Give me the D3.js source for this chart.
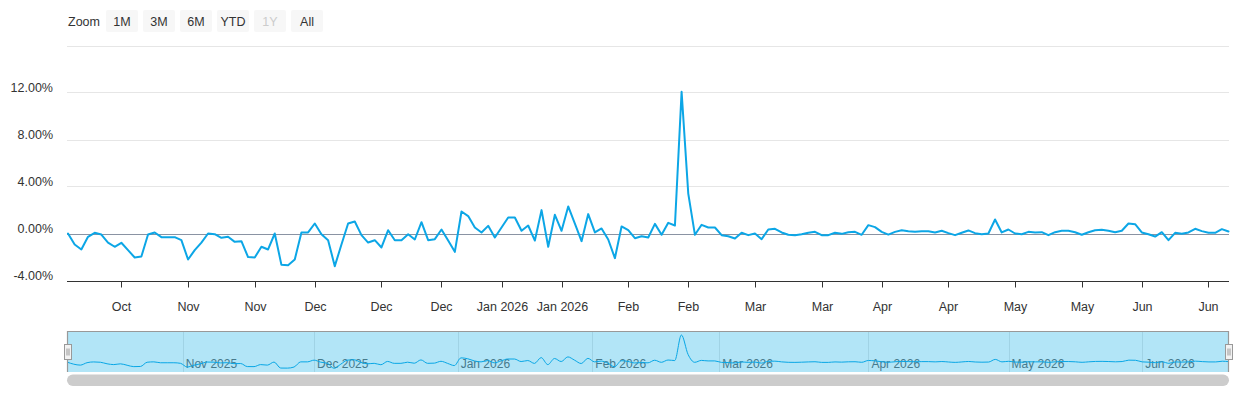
<!DOCTYPE html>
<html>
<head>
<meta charset="utf-8">
<script src="https://cdn.jsdelivr.net/npm/d3@7"></script>
<style>
  html, body { margin: 0; padding: 0; background: #fff; }
  svg { display: block; font-family: "Liberation Sans", Arial, Helvetica, sans-serif; }
</style>
</head>
<body>
<svg id="chart" width="1240" height="400"></svg>
<script>
// ---------------- DATA ----------------
const startDate = "2025-10-08";
const endDate = "2026-06-18";
const holidays = ["2025-11-27", "2025-12-25", "2026-01-01", "2026-01-19", "2026-02-16", "2026-04-03", "2026-05-25"];

// daily change (%) per trading day
const values = [
  0, -0.94, -1.36, -0.28, 0.06, -0.09, -0.77, -1.13, -0.79, -1.42,
  -2.04, -1.96, -0.09, 0.09, -0.31, -0.31, -0.31, -0.57, -2.21, -1.42,
  -0.77, 0, -0.06, -0.37, -0.28, -0.71, -0.65, -2.01, -2.04, -1.13,
  -1.36, 0, -2.67, -2.70, -2.21, 0.09, 0.09, 0.85, -0.06, -0.57,
  -2.78, -0.94, 0.85, 1.02,
  -0.14, -0.77, -0.57, -1.19, 0.28, -0.57, -0.57, -0.06, -0.51, 0.96,
  -0.57, -0.48, 0.34, -0.60, -1.56, 1.87, 1.48, 0.51, 0.09, 0.65,
  -0.34, 0.51, 1.36, 1.36, 0.23, 0.68, -0.60, 1.99, -1.13, 1.59,
  0.23, 2.30, 0.85, -0.65, 1.65, 0.09, 0.43, -0.51, -2.10, 0.60,
  0.28, -0.40, -0.23, -0.34,
  0.82, -0.11, 0.91, 0.68, 12.06, 3.40, -0.11, 0.74, 0.51, 0.51,
  -0.14, -0.23, -0.43, 0.06, -0.14, 0,
  -0.48, 0.34, 0.40, 0.09, -0.11, -0.14, -0.06, 0.06, 0.14, -0.14,
  -0.14, 0.06, -0.03, 0.11, 0.14, -0.11, 0.71, 0.54, 0.14, -0.09,
  0.14, 0.28, 0.20, 0.14, 0.20, 0.20, 0.09, 0.23, 0.03, -0.14,
  0.06, 0.26, 0.03, -0.06, 0, 1.19,
  0.09, 0.34, 0, -0.06, 0.14, 0.09, 0.11, -0.14, 0.11, 0.23,
  0.23, 0.11, -0.11, 0.11, 0.28, 0.31, 0.23, 0.11, 0.23, 0.85,
  0.79, 0.09, -0.06, -0.26, 0.11, -0.57, 0.06, -0.03, 0.09, 0.40,
  0.20, 0.06, 0.06, 0.37, 0.17
];

const tickDates = ["2025-10-20", "2025-11-03", "2025-11-17", "2025-12-01", "2025-12-15", "2025-12-29",
  "2026-01-12", "2026-01-26", "2026-02-09", "2026-02-23", "2026-03-09", "2026-03-23",
  "2026-04-06", "2026-04-20", "2026-05-04", "2026-05-18", "2026-06-01", "2026-06-15"];
const tickLabels = ["Oct", "Nov", "Nov", "Dec", "Dec", "Dec", "Jan 2026", "Jan 2026", "Feb", "Feb",
  "Mar", "Mar", "Apr", "Apr", "May", "May", "Jun", "Jun"];

const yTicks = [-4, 0, 4, 8, 12, 16];
const yTickLabels = ["-4.00%", "0.00%", "4.00%", "8.00%", "12.00%", ""];

const navMonths = ["2025-11-01", "2025-12-01", "2026-01-01", "2026-02-01", "2026-03-01", "2026-04-01", "2026-05-01", "2026-06-01"];
const navLabels = ["Nov 2025", "Dec 2025", "Jan 2026", "Feb 2026", "Mar 2026", "Apr 2026", "May 2026", "Jun 2026"];

const buttons = ["1M", "3M", "6M", "YTD", "1Y", "All"];
const disabledButton = "1Y";

// ---------------- DATES (trading days) ----------------
const parse = d3.utcParse("%Y-%m-%d");
const fmt = d3.utcFormat("%Y-%m-%d");
const holidaySet = new Set(holidays);
const dates = [];
for (let d = parse(startDate); d <= parse(endDate); d = d3.utcDay.offset(d, 1)) {
  const wd = d.getUTCDay();
  if (wd === 0 || wd === 6 || holidaySet.has(fmt(d))) continue;
  dates.push(d);
}
const data = values.map((v, i) => ({ date: dates[i], value: v, i }));

// ordinal position of any date (interpolated between trading days)
function ordinalIndex(d) {
  const t = d.getTime();
  for (let i = 0; i < dates.length - 1; i++) {
    const a = dates[i].getTime(), b = dates[i + 1].getTime();
    if (t >= a && t < b) return i + (t - a) / (b - a);
  }
  return dates.length - 1;
}

// ---------------- LAYOUT ----------------
const svg = d3.select("#chart");
const plotLeft = 67, plotRight = 1229;
const colorLine = "#0ca6e6";

const x = d3.scaleLinear().domain([0, values.length - 1]).range([68, 1228.5]);
const y = d3.scaleLinear().domain([-4, 16]).range([280.5, 45.5]);

// ---------------- RANGE SELECTOR ----------------
const rs = svg.append("g");
rs.append("text").attr("x", 68).attr("y", 26).attr("font-size", 12.5).attr("fill", "#333").text("Zoom");
const btn = rs.selectAll("g.btn").data(buttons).join("g").attr("class", "btn")
  .attr("transform", (d, i) => `translate(${106 + i * 37},10)`);
btn.append("rect").attr("width", 32).attr("height", 22).attr("rx", 2).attr("fill", "#f7f7f7");
btn.append("text").attr("x", 16).attr("y", 16).attr("text-anchor", "middle").attr("font-size", 12.5)
  .attr("fill", d => d === disabledButton ? "#cccccc" : "#333").text(d => d);

// ---------------- GRID + Y AXIS ----------------
const grid = svg.append("g");
grid.selectAll("line").data(yTicks.filter(t => t !== 0 && t !== -4)).join("line")
  .attr("x1", plotLeft).attr("x2", plotRight)
  .attr("y1", d => Math.round(y(d)) + 0.5).attr("y2", d => Math.round(y(d)) + 0.5)
  .attr("stroke", "#e6e6e6").attr("stroke-width", 1);

svg.append("g").selectAll("text").data(yTicks).join("text")
  .attr("x", 53).attr("y", d => y(d) - 1)
  .attr("text-anchor", "end").attr("font-size", 12.5).attr("fill", "#333")
  .text((d, i) => yTickLabels[i]);

// zero plot line
svg.append("line").attr("x1", plotLeft).attr("x2", plotRight)
  .attr("y1", Math.round(y(0)) + 0.5).attr("y2", Math.round(y(0)) + 0.5)
  .attr("stroke", "#8a93a3").attr("stroke-width", 1);

// ---------------- X AXIS ----------------
const xAxisY = Math.round(y(-4)) + 0.5;
svg.append("line").attr("x1", plotLeft).attr("x2", plotRight).attr("y1", xAxisY).attr("y2", xAxisY)
  .attr("stroke", "#333").attr("stroke-width", 1);
const tickIdx = tickDates.map(s => ordinalIndex(parse(s)));
const xt = svg.append("g").selectAll("g").data(tickIdx).join("g")
  .attr("transform", d => `translate(${Math.round(x(d)) + 0.5},0)`);
xt.append("line").attr("y1", xAxisY).attr("y2", xAxisY + 6).attr("stroke", "#333");
xt.append("text").attr("y", 311).attr("text-anchor", "middle").attr("font-size", 12.5).attr("fill", "#333")
  .text((d, i) => tickLabels[i]);

// ---------------- SERIES ----------------
const line = d3.line().x(d => x(d.i)).y(d => y(d.value));
svg.append("path").datum(data).attr("d", line)
  .attr("fill", "none").attr("stroke", colorLine).attr("stroke-width", 2)
  .attr("stroke-linejoin", "round").attr("stroke-linecap", "round");

// ---------------- NAVIGATOR ----------------
const navTop = 331.5, navBottom = 372;
const nx = d3.scaleLinear().domain([0, values.length - 1]).range([plotLeft, plotRight]);
const ny = d3.scaleLinear().domain([d3.min(values), d3.max(values)]).range([368.3, 335]);
const nav = svg.append("g");

// grid lines and labels
const navIdx = navMonths.map(s => ordinalIndex(parse(s)));
nav.selectAll("line.ng").data(navIdx).join("line").attr("class", "ng")
  .attr("x1", d => Math.round(nx(d)) + 0.5).attr("x2", d => Math.round(nx(d)) + 0.5)
  .attr("y1", navTop).attr("y2", navBottom).attr("stroke", "#e6e6e6");
nav.selectAll("text").data(navIdx).join("text")
  .attr("x", d => nx(d) + 3).attr("y", 368).attr("font-size", 12).attr("fill", "#666")
  .text((d, i) => navLabels[i]);

// series (spline)
const navLine = d3.line().x(d => nx(d.i)).y(d => ny(d.value)).curve(d3.curveMonotoneX);
nav.append("path").datum(data).attr("d", navLine)
  .attr("fill", "none").attr("stroke", colorLine).attr("stroke-width", 1);

// mask
nav.append("rect").attr("x", plotLeft).attr("y", navTop).attr("width", plotRight - plotLeft)
  .attr("height", navBottom - navTop).attr("fill", "rgba(0,170,230,0.3)");

// outline
nav.append("path")
  .attr("d", `M${plotLeft + 0.5},${navBottom} L${plotLeft + 0.5},${navTop} L${plotRight - 0.5},${navTop} L${plotRight - 0.5},${navBottom}`)
  .attr("fill", "none").attr("stroke", "#999").attr("stroke-width", 1.2);

// handles
[plotLeft + 0.5, plotRight - 0.5].forEach(cx => {
  const h = nav.append("g").attr("transform", `translate(${Math.round(cx - 4) + 0.5},344.5)`);
  h.append("rect").attr("width", 7).attr("height", 15).attr("fill", "#f2f2f2").attr("stroke", "#999");
  h.append("line").attr("x1", 2.5).attr("x2", 2.5).attr("y1", 4).attr("y2", 11).attr("stroke", "#999");
  h.append("line").attr("x1", 4.5).attr("x2", 4.5).attr("y1", 4).attr("y2", 11).attr("stroke", "#999");
});

// scrollbar
svg.append("rect").attr("x", plotLeft).attr("y", 374.5).attr("width", plotRight - plotLeft).attr("height", 11.5)
  .attr("rx", 5.75).attr("fill", "#cccccc");
</script>
</body>
</html>
